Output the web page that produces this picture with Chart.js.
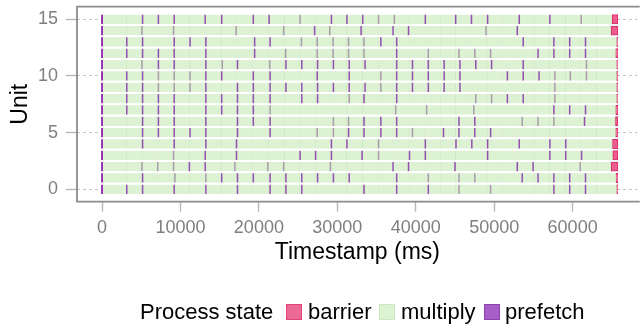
<!DOCTYPE html>
<html>
<head>
<meta charset="utf-8">
<script src="https://cdn.jsdelivr.net/npm/chart.js@4.4.1/dist/chart.umd.min.js"></script>
<style>
  body { margin: 0; background: #fff; }
  #wrap { position: relative; width: 644px; height: 328px; font-family: "Liberation Sans", Arial, sans-serif; }
  .lg { position: absolute; font-size: 22px; line-height: 22px; color: #000; white-space: nowrap; }
  .sw { position: absolute; width: 16px; height: 16px; box-sizing: border-box; border: 1px solid; }
</style>
</head>
<body>
<div id="wrap">
  <canvas id="myChart" width="644" height="328"></canvas>
  <span class="lg" style="left:140px;top:301px">Process state</span>
  <span class="sw" style="left:286px;top:304px;background:#ee6a96;border-color:#e2437e"></span>
  <span class="lg" style="left:308px;top:301px">barrier</span>
  <span class="sw" style="left:379px;top:304px;background:#dcf2d3;border-color:#cbe8bf"></span>
  <span class="lg" style="left:401px;top:301px">multiply</span>
  <span class="sw" style="left:484px;top:304px;background:#a960c6;border-color:#9040b2"></span>
  <span class="lg" style="left:505px;top:301px">prefetch</span>
</div>
<script>
// units 0..15, one row each
var units = [0, 1, 2, 3, 4, 5, 6, 7, 8, 9, 10, 11, 12, 13, 14, 15];

// ends of the multiply steps (ms)
var stepEnds = [3150, 5170, 7190, 9200, 11220, 13200, 15250, 17270, 19290, 21300, 23300,
    25260, 27230, 29250, 31220, 33240, 35260, 37270, 39200, 41220, 43240, 45090, 47100,
    49160, 51180, 53200, 55150, 57100, 59120, 61100, 63070];

// barrier start per unit (ms), all end at runEnd
var barrierStart = [65634, 65550, 64919, 65130, 65088, 65508, 65466, 65508,
    65634, 65634, 65634, 65634, 65508, 65634, 64919, 65045];
var runEnd = 65760;

// prefetch events per unit (ms)
var prefetchTimes = [
    [0, 3155, 5172, 9206, 13239, 17273, 21433, 23449, 25466, 33407, 37567, 41600, 57608, 59626, 61642],
    [0, 5172, 15256, 17273, 19290, 21433, 23449, 25466, 27483, 29500, 31517, 37567, 53575, 55592, 57608, 59626, 61642],
    [0, 11139, 13156, 37105, 39079, 45004, 52944, 54961],
    [0, 13156, 17147, 25256, 27231, 29248, 33155, 39205, 41222, 49163, 57104, 59121, 61139],
    [0, 5172, 9206, 13239, 17147, 29248, 31223, 41222, 45130, 47147, 49163, 53197, 57104, 59121],
    [0, 5172, 7189, 9206, 11223, 13239, 17273, 21433, 31433, 33407, 35550, 37567, 43534, 45508, 47525, 49541],
    [0, 5172, 7189, 9206, 13239, 17273, 19290, 21433, 33407, 35550, 37567, 45508, 47525, 61517],
    [0, 3155, 5172, 7189, 9206, 13239, 15256, 17273, 19290, 57608, 59626, 61642],
    [0, 3155, 5172, 7189, 9206, 13239, 15256, 17273, 19290, 21433, 25466, 27483, 33407, 37567, 51684, 53701],
    [0, 3155, 5172, 13239, 17273, 19290, 21433, 23449, 25466, 27483, 29500, 31517, 33533, 37567, 39584, 41600, 43618, 45634],
    [0, 3155, 5172, 13239, 15256, 19290, 21433, 27441, 31517, 37567, 39584, 41600, 43618, 45634, 51684, 53701, 55718],
    [0, 7189, 9206, 13239, 17273, 23449, 25466, 27483, 29500, 31517, 33533, 37567, 39584, 41600, 43618, 45634, 47651, 49667, 53701],
    [0, 3155, 5172, 7189, 9206, 13239, 19458, 37567, 55592, 57608, 59626, 61642],
    [0, 3155, 5172, 9206, 11223, 13239, 19458, 21433, 35550, 37567, 53701, 57608, 59626, 61642],
    [0, 27105, 33029, 37105, 39079, 52944],
    [0, 5172, 7189, 9206, 13156, 15256, 19290, 21307, 29248, 31223, 33239, 41222, 45088, 47105, 49163, 53197, 57104]
];

// prefetch events that show up pale (overlapping a step border)
var prefetchPale = [
    [45508, 49541],
    [9290, 13239, 41600, 45508, 47525],
    [5088, 7105, 9122, 16937, 21139, 23155, 29122, 60971],
    [9122, 35256],
    [35256],
    [27441, 29500, 39584],
    [29500, 31433, 53575, 55592, 57608],
    [21433, 37441, 41391, 47399],
    [31517, 47651, 49667, 57734],
    [7189, 9206, 11223, 35550, 57734],
    [7189, 9206, 11223, 35550, 57734, 59710, 61768],
    [5088, 15340, 21391, 61768],
    [23407, 27441, 29458, 31433, 33407, 41600, 45508, 47525, 49541],
    [25424, 27441, 29458, 31433, 33407],
    [5088, 9122, 17105, 23155, 29038, 48954],
    [25256, 35256, 37273, 61097]
];

var xTicks = [0, 10000, 20000, 30000, 40000, 50000, 60000];
var yTicks = [0, 5, 10, 15];

document.addEventListener("DOMContentLoaded", function() {
    Chart.defaults.font.family = '"Liberation Sans", Arial, sans-serif';

    var multiplyData = [];
    var barrierData = [];
    var prefetchData = [];
    var paleData = [];
    units.forEach(function(u) {
        var edges = [0].concat(stepEnds.filter(function(t) { return t < barrierStart[u]; }));
        edges.push(barrierStart[u]);
        for (var i = 1; i < edges.length; i++) {
            multiplyData.push({x: [edges[i - 1], edges[i]], y: u});
        }
        barrierData.push({x: [barrierStart[u], runEnd], y: u});
        prefetchTimes[u].forEach(function(t) { prefetchData.push({x: t, y: u}); });
        prefetchPale[u].forEach(function(t) { paleData.push({x: t, y: u}); });
    });

    // panel frame like ggplot's theme_light (top, left, bottom; right side is cut off)
    var framePlugin = {
        id: "frame",
        afterDatasetsDraw: function(chart) {
            var a = chart.chartArea, c = chart.ctx;
            c.save();
            c.strokeStyle = "#8c8c8c";
            c.lineWidth = 1.8;
            c.beginPath();
            c.moveTo(a.right + 2, a.top);
            c.lineTo(a.left, a.top);
            c.lineTo(a.left, a.bottom);
            c.lineTo(a.right + 2, a.bottom);
            c.stroke();
            c.restore();
        }
    };

    var plain = function(v) { return String(v); };

    var ctx = document.getElementById("myChart").getContext("2d");
    new Chart(ctx, {
        type: "bar",
        data: {
            datasets: [{
                label: "prefetch",
                type: "scatter",
                indexAxis: "x",
                data: prefetchData,
                pointStyle: "line",
                rotation: 90,
                radius: 4.65,
                hoverRadius: 4.65,
                borderWidth: function(c) { return c.raw && c.raw.x === 0 ? 1.7 : 1.5; },
                borderColor: function(c) { return c.raw && c.raw.x === 0 ? "#8a12ad" : "#9450b0"; },
                order: 0
            }, {
                label: "prefetch pale",
                type: "scatter",
                indexAxis: "x",
                data: paleData,
                pointStyle: "line",
                rotation: 90,
                radius: 4.65,
                hoverRadius: 4.65,
                borderWidth: 1.5,
                borderColor: "#a99cab",
                order: 1
            }, {
                label: "barrier",
                indexAxis: "y",
                data: barrierData,
                backgroundColor: "#ea5d8e",
                borderColor: "#d92c6d",
                borderWidth: 1,
                borderSkipped: false,
                barThickness: 9.3,
                grouped: false,
                order: 2
            }, {
                label: "multiply",
                indexAxis: "y",
                data: multiplyData,
                backgroundColor: "#ddf1d3",
                borderColor: "#cde7c0",
                borderWidth: {left: 0, top: 0, bottom: 0, right: 1},
                borderSkipped: false,
                barThickness: 9.3,
                grouped: false,
                order: 3
            }]
        },
        options: {
            responsive: false,
            animation: false,
            events: [],
            layout: {padding: {top: 6.7, right: 0, bottom: 0, left: 0}},
            plugins: {legend: {display: false}, tooltip: {enabled: false}},
            scales: {
                x: {
                    type: "linear",
                    position: "bottom",
                    min: -3190,
                    max: 68290,
                    offset: false,
                    afterFit: function(s) { s.height = 126.3; s.paddingLeft = 0; s.paddingRight = 0; },
                    afterBuildTicks: function(s) { s.ticks = xTicks.map(function(v) { return {value: v}; }); },
                    ticks: {color: "#7f7f7f", font: {size: 18}, padding: 6, maxRotation: 0, autoSkip: false, callback: plain},
                    grid: {drawOnChartArea: false, offset: false, tickLength: 10, tickWidth: 1.4, tickColor: "#b8b8b8"},
                    border: {display: false},
                    title: {display: true, text: "Timestamp (ms)", color: "#000", font: {size: 23}, padding: {top: 0, bottom: 62}}
                },
                y: {
                    type: "linear",
                    position: "left",
                    min: -1.094,
                    max: 16.11,
                    offset: false,
                    afterFit: function(s) { s.width = 77; s.paddingTop = 0; s.paddingBottom = 0; },
                    afterBuildTicks: function(s) { s.ticks = yTicks.map(function(v) { return {value: v}; }); },
                    ticks: {color: "#7f7f7f", font: {size: 18}, padding: 8, callback: plain},
                    grid: {offset: false, color: "#c4c4c4", lineWidth: 1, tickLength: 11, tickWidth: 1.4, tickColor: "#b8b8b8"},
                    border: {display: false, dash: [3, 3]},
                    title: {display: true, text: "Unit", color: "#000", font: {size: 23}, padding: {top: 7, bottom: 0}}
                }
            }
        },
        plugins: [framePlugin]
    });
});
</script>
</body>
</html>
